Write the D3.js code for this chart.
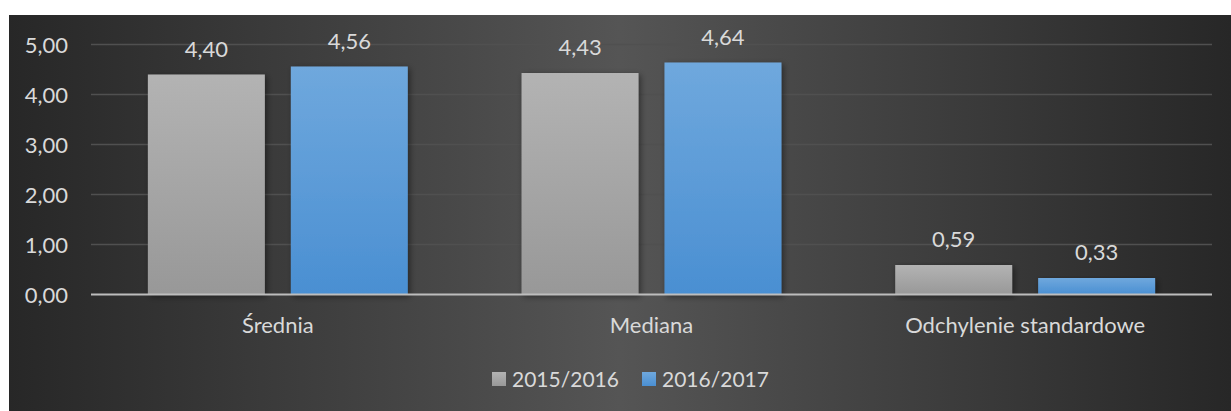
<!DOCTYPE html>
<html><head><meta charset="utf-8">
<script src="https://cdn.jsdelivr.net/npm/d3@7"></script>
<style>body{margin:0;background:#fff;} svg{display:block;}</style>
</head><body>
<svg id="c" width="1231" height="411"></svg>
<script>
const categories = ["Średnia", "Mediana", "Odchylenie standardowe"];
const seriesNames = ["2015/2016", "2016/2017"];
const values2015 = [4.40, 4.43, 0.59];
const values2016 = [4.56, 4.64, 0.33];
const yTicks = [0, 1, 2, 3, 4, 5];

const svg = d3.select("#c");
const FONT = "Lato, 'Noto Sans', sans-serif";
const defs = svg.append("defs");

const bg = defs.append("linearGradient").attr("id","bg").attr("x1","0").attr("x2","1").attr("y1","0").attr("y2","0");
bg.append("stop").attr("offset","0").attr("stop-color","#272727");
bg.append("stop").attr("offset","0.5").attr("stop-color","#555555");
bg.append("stop").attr("offset","1").attr("stop-color","#272727");

const gGray = defs.append("linearGradient").attr("id","gGray").attr("x1","0").attr("x2","0").attr("y1","0").attr("y2","1");
gGray.append("stop").attr("offset","0").attr("stop-color","#b3b3b3");
gGray.append("stop").attr("offset","1").attr("stop-color","#989898");
const gBlue = defs.append("linearGradient").attr("id","gBlue").attr("x1","0").attr("x2","0").attr("y1","0").attr("y2","1");
gBlue.append("stop").attr("offset","0").attr("stop-color","#6fa8dd");
gBlue.append("stop").attr("offset","1").attr("stop-color","#4a8fd2");

const sh = defs.append("filter").attr("id","sh").attr("x","-10%").attr("y","-10%").attr("width","130%").attr("height","130%");
sh.append("feDropShadow").attr("dx",2).attr("dy",2).attr("stdDeviation",3).attr("flood-color","#000").attr("flood-opacity",0.45);

svg.append("rect").attr("x",9).attr("y",15).attr("width",1222).attr("height",396).attr("fill","url(#bg)");

const x0 = d3.scaleBand().domain(categories).range([91, 1212]).paddingInner(0).paddingOuter(0);
const x1 = d3.scaleBand().domain(seriesNames).range([0, x0.bandwidth()]).paddingInner(26/143).paddingOuter(0.398);
const y = d3.scaleLinear().domain([0, 5]).range([294.5, 44.5]);

// gridlines
svg.append("g").selectAll("line").data(yTicks.filter(d => d > 0)).join("line")
  .attr("x1", 91).attr("x2", 1212)
  .attr("y1", d => y(d)).attr("y2", d => y(d))
  .attr("stroke", "#505050").attr("stroke-width", 1.5);

// y labels
svg.append("g").selectAll("text").data(yTicks).join("text")
  .attr("x", 68).attr("y", d => y(d) + 8)
  .attr("text-anchor", "end")
  .attr("font-family", FONT).attr("font-size", 22).attr("fill", "#d9d9d9")
  .text(d => d.toFixed(2).replace(".", ","));

const data = categories.map((c, i) => ({cat: c, vals: [
  {s: seriesNames[0], v: values2015[i], fill: "url(#gGray)"},
  {s: seriesNames[1], v: values2016[i], fill: "url(#gBlue)"}
]}));

const groups = svg.append("g").selectAll("g").data(data).join("g")
  .attr("transform", d => `translate(${x0(d.cat)},0)`);

groups.selectAll("rect").data(d => d.vals).join("rect")
  .attr("x", d => x1(d.s)).attr("width", x1.bandwidth())
  .attr("y", d => y(d.v)).attr("height", d => y(0) - y(d.v))
  .attr("fill", d => d.fill).attr("filter", "url(#sh)");

groups.selectAll("text").data(d => d.vals).join("text")
  .attr("x", d => x1(d.s) + x1.bandwidth() / 2)
  .attr("y", d => y(d.v) - 18)
  .attr("text-anchor", "middle")
  .attr("font-family", FONT).attr("font-size", 22).attr("fill", "#d9d9d9")
  .text(d => d.v.toFixed(2).replace(".", ","));

// x axis line
svg.append("line").attr("x1", 91).attr("x2", 1212).attr("y1", y(0)).attr("y2", y(0))
  .attr("stroke", "#bdbdbd").attr("stroke-width", 2);

// category labels
svg.append("g").selectAll("text").data(categories).join("text")
  .attr("x", d => x0(d) + x0.bandwidth() / 2).attr("y", 333)
  .attr("text-anchor", "middle")
  .attr("font-family", FONT).attr("font-size", 22).attr("fill", "#d9d9d9")
  .text(d => d);

// legend
const legendX = [492, 642];
const lg = svg.append("g").selectAll("g").data(seriesNames).join("g")
  .attr("transform", (d, i) => `translate(${legendX[i]},372)`);
lg.append("rect").attr("width", 14).attr("height", 14)
  .attr("fill", (d, i) => i === 0 ? "url(#gGray)" : "url(#gBlue)");
lg.append("text").attr("x", 20).attr("y", 14.5)
  .attr("font-family", FONT).attr("font-size", 21).attr("fill", "#d9d9d9")
  .text(d => d);
</script>
</body></html>
